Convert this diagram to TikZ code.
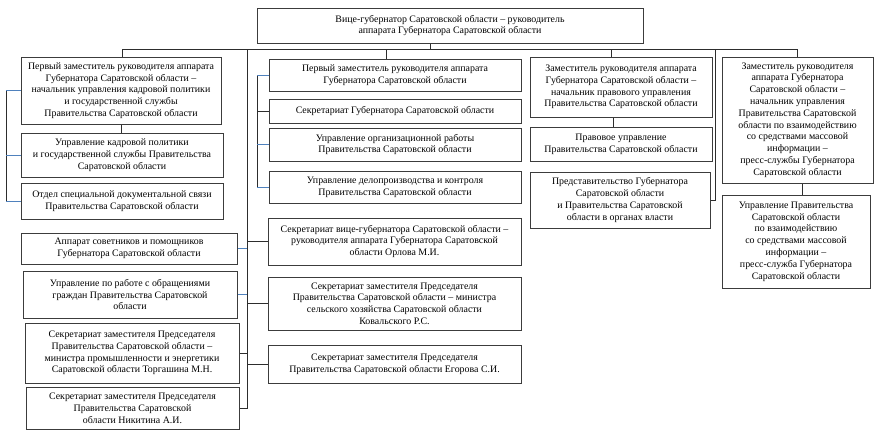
\documentclass[tikz,border=0pt]{standalone}
\usepackage{fontspec}
\setmainfont{Liberation Serif}
\usepackage{tikz}
\definecolor{frameline}{RGB}{60, 60, 60}
\definecolor{linkgray}{RGB}{45, 45, 45}
\definecolor{linkblue}{RGB}{79, 129, 189}

\begin{document}
\begin{tikzpicture}[x=1pt, y=-1pt,
    unit/.style={draw=frameline, line width=1pt, align=center, inner sep=1pt,
                 font=\fontsize{9.9}{11.8}\selectfont},
    link/.style={draw=linkgray, line width=0.85pt},
    bluelink/.style={draw=linkblue, line width=0.85pt}]
  \useasboundingbox (0,0) rectangle (880,440);

  \node[unit, minimum width=386, minimum height=35] (head) at (450, 25.5)
       {Вице-губернатор  Саратовской области – руководитель\\аппарата Губернатора Саратовской области};

  \node[unit, minimum width=200, minimum height=67] (firstdep) at (121, 90.5)
       {Первый заместитель руководителя аппарата\\Губернатора Саратовской области –\\начальник управления кадровой политики\\и государственной  службы\\Правительства Саратовской области};
  \node[unit, minimum width=202, minimum height=44] (kadry) at (122, 155)
       {Управление кадровой политики\\и государственной  службы Правительства\\Саратовской области};
  \node[unit, minimum width=202, minimum height=36] (svyaz) at (122, 201)
       {Отдел специальной  документальной связи\\Правительства Саратовской области};
  \node[unit, minimum width=216, minimum height=31] (sovetniki) at (129, 248.5)
       {Аппарат советников и помощников\\Губернатора Саратовской области};
  \node[unit, minimum width=214, minimum height=47] (obrash) at (130, 294.5)
       {Управление по работе с обращениями\\граждан Правительства Саратовской\\области};
  \node[unit, minimum width=214, minimum height=60] (sekrtorg) at (132, 353)
       {Секретариат заместителя Председателя\\Правительства Саратовской области –\\министра промышленности и энергетики\\Саратовской области Торгашина М.Н.};
  \node[unit, minimum width=213, minimum height=42] (sekrnik) at (132.5, 408)
       {Секретариат заместителя Председателя\\Правительства Саратовской\\области Никитина А.И.};

  \node[unit, minimum width=252, minimum height=32] (firstapp) at (395, 75)
       {Первый заместитель руководителя аппарата\\Губернатора Саратовской области};
  \node[unit, minimum width=252, minimum height=24] (sekrgub) at (395, 111)
       {Секретариат Губернатора Саратовской области};
  \node[unit, minimum width=252, minimum height=33] (orgwork) at (395, 144.5)
       {Управление организационной  работы\\Правительства Саратовской области};
  \node[unit, minimum width=252, minimum height=32] (delo) at (395, 187)
       {Управление делопроизводства и контроля\\Правительства Саратовской области};
  \node[unit, minimum width=253, minimum height=47] (sekrorl) at (394.5, 241.5)
       {Секретариат вице-губернатора  Саратовской области –\\руководителя аппарата  Губернатора Саратовской\\области Орлова М.И.};
  \node[unit, minimum width=253, minimum height=53] (sekrkov) at (394.5, 303.5)
       {Секретариат заместителя Председателя\\Правительства Саратовской области – министра\\сельского хозяйства Саратовской  области\\Ковальского Р.С.};
  \node[unit, minimum width=253, minimum height=38] (sekregor) at (394.5, 364)
       {Секретариат заместителя Председателя\\Правительства Саратовской области Егорова С.И.};

  \node[unit, minimum width=182, minimum height=60] (pravdep) at (621, 87)
       {Заместитель руководителя аппарата\\Губернатора Саратовской области –\\начальник правового управления\\Правительства Саратовской области};
  \node[unit, minimum width=182, minimum height=34] (pravupr) at (621, 144)
       {Правовое управление\\Правительства Саратовской области};
  \node[unit, minimum width=180, minimum height=56] (predst) at (620, 200)
       {Представительство Губернатора\\Саратовской области\\и Правительства Саратовской\\области в органах власти};

  \node[unit, minimum width=151, minimum height=126] (smidep) at (797.5, 120)
       {Заместитель руководителя\\аппарата Губернатора\\Саратовской области –\\начальник управления\\Правительства Саратовской\\области по взаимодействию\\со средствами массовой\\информации –\\пресс-службы Губернатора\\Саратовской области};
  \node[unit, minimum width=148, minimum height=93] (smiupr) at (796, 241.5)
       {Управление Правительства\\Саратовской области\\по взаимодействию\\со средствами массовой\\информации –\\пресс-служба Губернатора\\Саратовской области};

  \coordinate (stub)    at (430, 49);
  \coordinate (busW)    at (122, 49);
  \coordinate (busE)    at (797.5, 49);
  \coordinate (busM)    at (386, 49);
  \coordinate (busR)    at (611, 49);
  \coordinate (trunkL)  at (247, 49);
  \coordinate (trunkR)  at (715, 49);
  \coordinate (brL)     at (6, 91);
  \coordinate (brM)     at (257, 75);

  \draw[link] (stub) -- (stub |- head.south);
  \draw[link] (busW) -- (busE);
  \draw[link] (busW) -- (busW |- firstdep.north);
  \draw[link] (busM) -- (busM |- firstapp.north);
  \draw[link] (busR) -- (busR |- pravdep.north);
  \draw[link] (busE) -- (smidep.north);
  \draw[link] (trunkL) -- (trunkL |- sekrnik.east) -- (sekrnik.east);
  \draw[link] (trunkR) |- (predst.east);

  \draw[link] (firstdep.south) -- (firstdep.south |- kadry.north);
  \draw[link] ([xshift=-8pt]pravdep.south) -- ([xshift=-8pt]pravupr.north);
  \draw[link] ([xshift=5pt]smidep.south) -- ([xshift=5pt]smidep.south |- smiupr.north);

  \draw[link] (brL |- firstdep.west) -- (brL |- svyaz.west);
  \draw[bluelink] (firstdep.west) -- (brL |- firstdep.west);
  \draw[bluelink] (kadry.west) -- (brL |- kadry.west);
  \draw[bluelink] (svyaz.west) -- (brL |- svyaz.west);

  \draw[link] (brM |- firstapp.west) -- (brM |- delo.west);
  \draw[bluelink] (firstapp.west) -- (brM |- firstapp.west);
  \draw[link] (sekrgub.west) -- (brM |- sekrgub.west);
  \draw[bluelink] (orgwork.west) -- (brM |- orgwork.west);
  \draw[bluelink] (delo.west) -- (brM |- delo.west);

  \draw[bluelink] (sovetniki.east) -- (trunkL |- sovetniki.east);
  \draw[bluelink] (obrash.east) -- (trunkL |- obrash.east);
  \draw[link] (sekrtorg.east) -- (trunkL |- sekrtorg.east);
  \draw[link] (sekrorl.west) -- (trunkL |- sekrorl.west);
  \draw[link] (sekrkov.west) -- (trunkL |- sekrkov.west);
  \draw[link] (sekregor.west) -- (trunkL |- sekregor.west);
\end{tikzpicture}
\end{document}
